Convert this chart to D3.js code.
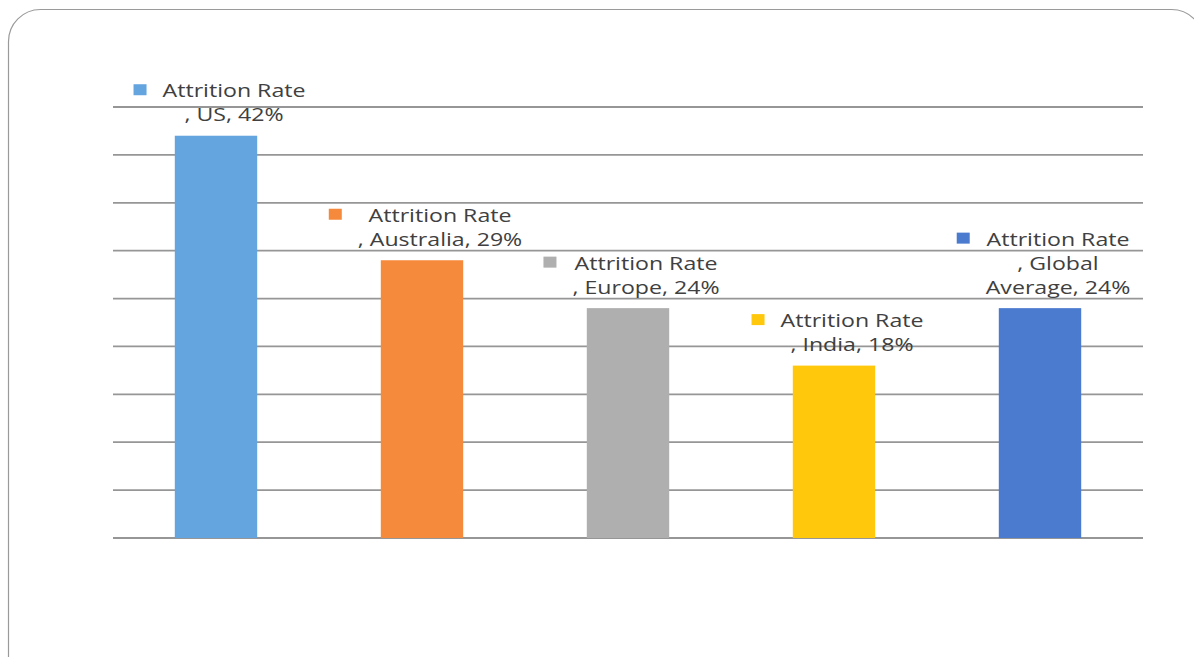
<!DOCTYPE html>
<html>
<head>
<meta charset="utf-8">
<script src="https://cdn.jsdelivr.net/npm/d3@7"></script>
<style>
  html, body { margin: 0; padding: 0; background: #fff; }
  svg { display: block; }
  .grid line { stroke: #969696; stroke-width: 1.8; }
  .lbl { font-family: "Open Sans", sans-serif; font-size: 18px; fill: #404040; }
</style>
</head>
<body>
<svg id="chart"></svg>
<script>
const categories = ['US', 'Australia', 'Europe', 'India', 'Global Average'];
const values = [42, 29, 24, 18, 24];
const colors = ['#64a5e0', '#f68a3c', '#afafaf', '#ffc80d', '#4b7bcf'];
const seriesName = 'Attrition Rate';
const gridTicks = [0, 5, 10, 15, 20, 25, 30, 35, 40, 45];

const width = 1194, height = 657;
const margin = { top: 107, right: 51, bottom: 119, left: 113 };

const svg = d3.select('#chart').attr('width', width).attr('height', height);

// frame round the slide area
svg.append('rect')
  .attr('x', 8.5).attr('y', 9.5)
  .attr('width', 1195).attr('height', 700)
  .attr('rx', 32)
  .attr('fill', 'none')
  .attr('stroke', '#9a9a9a')
  .attr('stroke-width', 1.2);

const x = d3.scaleBand()
  .domain(categories)
  .range([margin.left, width - margin.right])
  .paddingInner(0.6)
  .paddingOuter(0.3);

const y = d3.scaleLinear()
  .domain([0, 45])
  .range([height - margin.bottom, margin.top]);

svg.append('g')
  .attr('class', 'grid')
  .selectAll('line')
  .data(gridTicks)
  .enter()
  .append('line')
  .attr('x1', margin.left)
  .attr('x2', width - margin.right)
  .attr('y1', d => y(d))
  .attr('y2', d => y(d));

svg.append('g')
  .selectAll('rect')
  .data(categories)
  .enter()
  .append('rect')
  .attr('x', d => x(d))
  .attr('width', x.bandwidth())
  .attr('y', (d, i) => y(values[i]))
  .attr('height', (d, i) => y(0) - y(values[i]))
  .attr('fill', (d, i) => colors[i]);

// data labels: series name, then category and value, wrapped at spaces in the category
const lineH = 24;
const targetW = 143; // width of "Attrition Rate" in the reference
let sx = 1;

categories.forEach((cat, i) => {
  const parts = cat.split(' ');
  const rest = parts.length > 1
    ? [', ' + parts[0], parts.slice(1).join(' ') + ', ' + values[i] + '%']
    : [', ' + cat + ', ' + values[i] + '%'];
  const lines = [seriesName].concat(rest);
  const cx = x(cat) + x.bandwidth() / 2 + 18;
  const lastBase = y(values[i]) - 14.5;

  const g = svg.append('g');
  const texts = lines.map((t, k) => g.append('text')
    .attr('class', 'lbl')
    .attr('text-anchor', 'middle')
    .attr('y', lastBase - (lines.length - 1 - k) * lineH)
    .text(t));

  if (i === 0) sx = targetW / texts[0].node().getComputedTextLength();
  g.attr('transform', `translate(${cx},0) scale(${sx},1)`);

  // legend key sits left of the widest line of the label box
  const wMax = d3.max(texts, t => t.node().getComputedTextLength()) * sx;
  const base1 = lastBase - (lines.length - 1) * lineH;
  svg.append('rect')
    .attr('x', cx - wMax / 2 - 29)
    .attr('y', base1 - 13)
    .attr('width', 13)
    .attr('height', 11)
    .attr('fill', colors[i]);
});
</script>
</body>
</html>
